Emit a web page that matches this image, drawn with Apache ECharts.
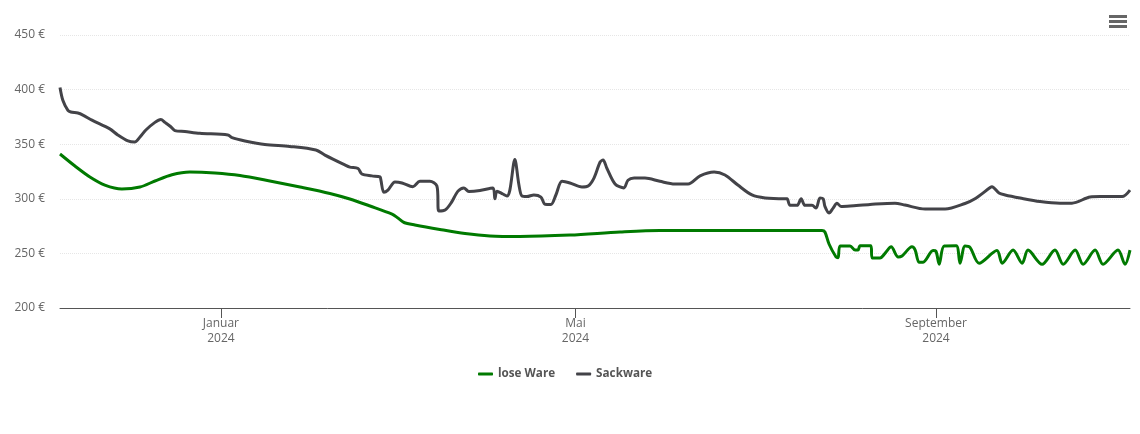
<!DOCTYPE html>
<html>
<head>
<meta charset="utf-8">
<style>
  html, body { margin: 0; padding: 0; background: #fff; }
  #main { width: 1140px; height: 434px; }
</style>
<script src="https://cdn.jsdelivr.net/npm/echarts@6/dist/echarts.min.js"></script>
</head>
<body>
<div id="main"></div>
<script>
// Tage seit dem 1.1.2024, Preise in Euro
const loseDays = [-54.9, -49.8, -44.7, -39.6, -33.8, -27.6, -22.5, -16.7, -10.6, -2, 6.5, 16.7, 27, 37.2, 44, 50.9, 58.4, 60.4, 62.5, 66.2, 74.7, 83.3, 91.8, 102, 119.1, 136.2, 149.8, 163.5, 205.1, 206.1, 207.5, 209.9, 210.6, 211.3, 214.7, 216.4, 217.4, 218.1, 221.8, 222.2, 224.9, 226.6, 228.7, 231.1, 232.4, 235.8, 236.9, 238.2, 239.6, 243, 244, 245.1, 246.8, 250.9, 252.2, 253.9, 255.6, 258.7, 264.8, 266.6, 270.3, 273.4, 275.4, 280.2, 284.6, 287.4, 291.5, 294.2, 298.3, 301, 306.1, 308.5, 310.2]
const loseValues = [341, 330, 320, 312.6, 309, 310.8, 316.3, 322, 324.5, 323.6, 321.3, 316.3, 310.8, 304.9, 299.8, 293.4, 286, 282.4, 278.3, 276, 271.9, 268.2, 266, 265.5, 266.8, 269.6, 271, 271, 271, 269.6, 258.6, 246.7, 246, 256.8, 256.8, 253, 253, 257, 257, 245.8, 245.8, 250, 256, 246.7, 247.6, 256, 253, 242, 242, 252.6, 252, 240, 256.8, 257, 241, 256.8, 255.5, 241, 252.6, 241, 253, 241, 253, 240, 253, 240, 253, 240, 253, 240, 253, 240, 253]

const sackDays = [-54.9, -53.9, -52.2, -51.2, -48.8, -47.1, -44, -37.9, -35.2, -31.7, -29.4, -27.6, -25.6, -22.5, -20.5, -19.1, -17.1, -15.7, -12.3, -7.2, 2.4, 3.8, 8.2, 15, 23.5, 32.4, 35.5, 42.3, 44, 46.8, 48.1, 51.5, 54.3, 54.6, 55.6, 57, 59.4, 61.8, 65.5, 67.9, 71.3, 73.7, 74.4, 76.5, 78.5, 80.9, 82.9, 84.6, 88.4, 92.8, 93.5, 94.2, 96.2, 97.6, 98.6, 100.3, 101.7, 102.7, 104.4, 106.8, 109.2, 110.6, 112.6, 114.3, 116.4, 119.1, 123.2, 125.3, 127.3, 129.4, 130.4, 131.7, 134.5, 137.5, 138.9, 141, 144.7, 149.8, 154.9, 159.4, 163.5, 168.3, 172, 176.4, 181.2, 185.7, 192.5, 193.2, 194.2, 196.6, 198, 199.3, 201.7, 203.1, 204.4, 205.5, 206.1, 207.5, 208.9, 210.2, 211.6, 214.7, 221.5, 230, 233.4, 240.3, 247.1, 253.9, 257.3, 262.5, 263.1, 265.5, 267.6, 272.7, 279.5, 286.3, 290.4, 296.6, 300, 307.5, 310.2]
const sackValues = [402, 390, 381, 379.5, 378.5, 376.7, 372, 364, 358.5, 353, 352, 356.6, 363, 370, 372.6, 370, 366, 362.5, 361.6, 360, 358.5, 356, 353, 349.7, 348, 344.7, 340, 331, 329, 327.7, 322.7, 321, 320, 317, 306, 308, 315.4, 314.5, 311, 316, 316, 311.7, 288.8, 289.7, 296, 307, 310, 306.7, 307.6, 310, 300, 307, 304.4, 302.6, 308, 336, 312.6, 302.6, 302, 303.5, 301.6, 295, 294.8, 303.5, 316, 314.5, 310.8, 311.7, 319, 333.7, 335.5, 328, 313.6, 310, 317, 319, 319, 316, 313.6, 313.6, 321, 324.5, 321.8, 312.6, 303.5, 300.7, 300, 300, 294, 294, 300, 294, 294, 291.5, 300.7, 300, 293, 287, 291.5, 296, 293, 293.4, 294.8, 296, 294.3, 290.6, 290.6, 295.7, 300, 310.3, 311, 305.3, 303.5, 300.7, 297.5, 296, 296, 301.6, 302, 302, 308]

const yTicks = [200, 250, 300, 350, 400, 450]
const monthDays = [0, 121, 244]
const monthLabels = ['Januar\n2024', 'Mai\n2024', 'September\n2024']

function toPoints(days, values) {
  return days.map((d, i) => [d, values[i]])
}

let myChart = echarts.init(document.getElementById('main'))

let option = {
  animation: false,
  textStyle: { fontFamily: '"Open Sans", sans-serif' },
  grid: { left: 60, right: 10, top: 35, bottom: 126 },
  legend: {
    bottom: 49,
    left: 473,
    icon: 'roundRect',
    itemWidth: 15,
    itemHeight: 3,
    itemGap: 21,
    textStyle: { fontSize: 11.7, fontWeight: 'bold', color: '#555', fontFamily: '"Open Sans", sans-serif' },
    data: ['lose Ware', 'Sackware']
  },
  toolbox: {
    right: 13,
    top: 15,
    padding: 0,
    itemSize: 18,
    iconStyle: { color: '#666', borderWidth: 0 },
    feature: {
      myMenu: {
        show: true,
        title: '',
        icon: 'path://M0 0H18V3H0Z M0 5H18V8H0Z M0 10H18V13H0Z',
        onclick() {}
      }
    }
  },
  xAxis: {
    type: 'value',
    min: loseDays[0],
    max: loseDays[loseDays.length - 1],
    axisLine: { onZero: false, lineStyle: { color: '#555', width: 1 } },
    axisTick: { length: 10, lineStyle: { color: '#555' }, customValues: monthDays },
    splitLine: { show: false },
    axisLabel: {
      customValues: monthDays,
      color: '#666',
      fontSize: 12,
      lineHeight: 15,
      margin: 8,
      formatter(value) {
        return monthLabels[monthDays.indexOf(value)]
      }
    }
  },
  yAxis: {
    type: 'value',
    min: yTicks[0],
    max: yTicks[yTicks.length - 1],
    interval: 50,
    axisLine: { show: false },
    axisTick: { show: false },
    splitLine: { lineStyle: { color: '#e6e6e6', type: 'dotted', width: 1 } },
    axisLabel: { color: '#666', fontSize: 12, margin: 15, formatter: '{value} €' }
  },
  series: [
    {
      name: 'lose Ware',
      type: 'line',
      data: toPoints(loseDays, loseValues),
      smooth: 0.3,
      showSymbol: false,
      symbol: 'none',
      color: '#007a00',
      lineStyle: { width: 3 }
    },
    {
      name: 'Sackware',
      type: 'line',
      data: toPoints(sackDays, sackValues),
      smooth: 0.3,
      showSymbol: false,
      symbol: 'none',
      color: '#434348',
      lineStyle: { width: 3 }
    }
  ]
}

myChart.setOption(option)
</script>
</body>
</html>
